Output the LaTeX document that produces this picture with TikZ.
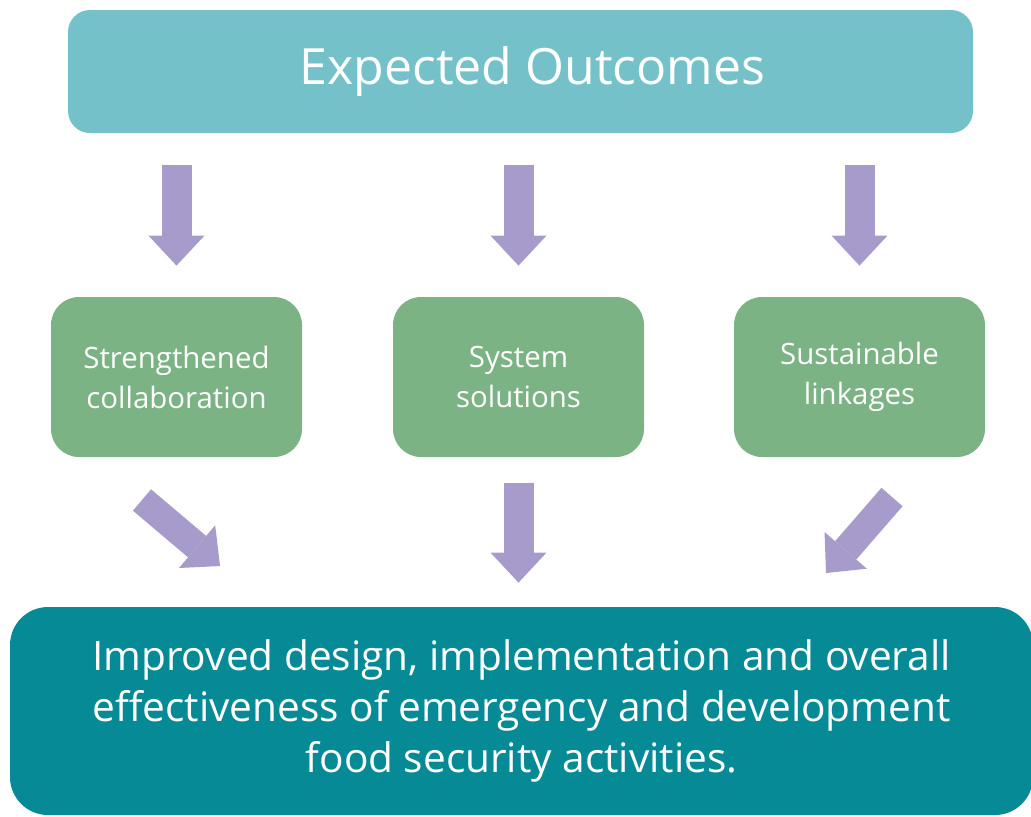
\documentclass[tikz,border=0pt]{standalone}
\usepackage{fontspec}
\setmainfont{Open Sans}
\usetikzlibrary{arrows.meta}

\definecolor{headteal}{HTML}{75C1CA}
\definecolor{boxgreen}{HTML}{7CB385}
\definecolor{goalteal}{HTML}{058A96}
\definecolor{arrowpurple}{HTML}{A69BCB}

\begin{document}
\begin{tikzpicture}[x = 0.5pt, y = -0.5pt,
	box/.style = {rounded corners = 14pt, text = white, align = center, inner sep = 0pt},
	bigarrow/.style = {draw = arrowpurple, line width = 15pt, -{Triangle[width = 28pt, length = 15pt, line width = 0pt]}}]

\useasboundingbox (0,0) rectangle (1031,816);

\node[box, fill = headteal, minimum width = 452.5pt, minimum height = 61.5pt, rounded corners = 11pt, font = \fontsize{25}{30}\selectfont] (outcomes) at (520.5, 71.5) {\hspace*{12pt}Expected Outcomes};

\node[box, fill = goalteal, minimum width = 511.5pt, minimum height = 104pt, rounded corners = 19pt, font = \fontsize{20.3}{25.5}\selectfont] (goal) at (521.5, 711) {Improved design, implementation and overall\\effectiveness of emergency and development\\food security activities.};

\foreach \x/\txt[count = \i] in {176.5/{Strengthened\\collaboration}, 518.5/{System\\solutions}, 859.5/{Sustainable\\linkages}} {
	\node[box, fill = boxgreen, minimum width = 125.5pt, minimum height = 80pt, font = \fontsize{14.7}{20}\selectfont] (out\i) at (\x, 377) {\txt};
	\draw[bigarrow, shorten <= 16pt, shorten >= 15.5pt] (outcomes.south -| out\i.north) -- (out\i.north);
}

\coordinate (tailA) at (142, 500);
\coordinate (tipA) at (220, 566);
\coordinate (tailC) at (892, 497);
\coordinate (tipC) at (826, 573);

\draw[bigarrow, line width = 14pt] (tailA) -- (tipA);
\draw[bigarrow, shorten <= 13pt, shorten >= 12pt] (out2.south) -- (goal.north -| out2.south);
\draw[bigarrow, line width = 14pt] (tailC) -- (tipC);

\end{tikzpicture}
\end{document}
